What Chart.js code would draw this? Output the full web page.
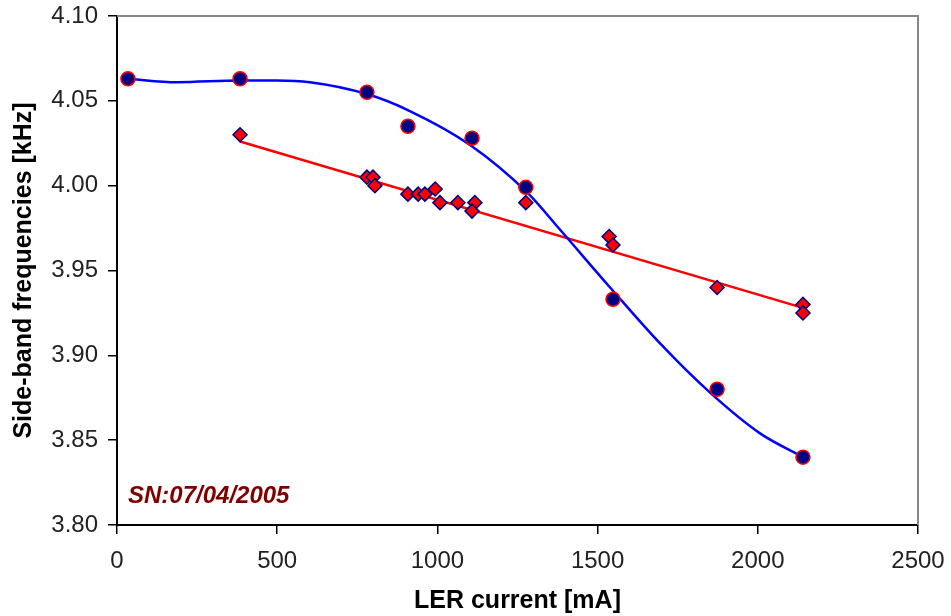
<!DOCTYPE html>
<html>
<head>
<meta charset="utf-8">
<script src="https://cdn.jsdelivr.net/npm/chart.js@4.4.0/dist/chart.umd.min.js"></script>
<style>
  body { margin: 0; background: #fff; }
  #wrap { width: 951px; height: 616px; }
</style>
</head>
<body>
<div id="wrap"><canvas id="chart" width="951" height="616"></canvas></div>
<script>
// measured points, upper set (circles)
const circleX = [34, 384, 780, 908, 1108, 1276, 1548, 1873, 2141];
const circleY = [4.063, 4.063, 4.055, 4.035, 4.028, 3.999, 3.933, 3.880, 3.840];

// measured points, lower set (diamonds)
const diamondX = [384, 780, 799, 805, 908, 940, 961, 993, 1008, 1064, 1117, 1108, 1276, 1536, 1548, 1873, 2141, 2141];
const diamondY = [4.030, 4.005, 4.005, 4.000, 3.995, 3.995, 3.995, 3.998, 3.990, 3.990, 3.990, 3.985, 3.990, 3.970, 3.965, 3.940, 3.930, 3.925];

// blue trend curve
const curveX = [34, 187, 384, 499, 602, 780, 914, 1102, 1280, 1383, 1539, 1695, 1851, 2007, 2141];
const curveY = [4.063, 4.061, 4.062, 4.062, 4.061, 4.054, 4.044, 4.024, 3.996, 3.974, 3.940, 3.907, 3.878, 3.854, 3.840];

// red linear trend
const lineX = [384, 2141];
const lineY = [4.026, 3.928];

const xTicks = [0, 500, 1000, 1500, 2000, 2500];
const yTicks = [3.80, 3.85, 3.90, 3.95, 4.00, 4.05, 4.10];

function pts(xs, ys) {
  return xs.map((x, i) => ({ x: x, y: ys[i] }));
}

const frame = {
  id: "frame",
  afterDatasetsDraw(chart) {
    const { ctx, chartArea: a } = chart;
    ctx.save();
    ctx.strokeStyle = "#888";
    ctx.lineWidth = 2;
    ctx.beginPath();
    ctx.moveTo(a.left, a.top);
    ctx.lineTo(a.right, a.top);
    ctx.lineTo(a.right, a.bottom);
    ctx.stroke();
    ctx.fillStyle = "#800000";
    ctx.font = "italic bold 24px 'Liberation Sans', Arial, sans-serif";
    ctx.textBaseline = "middle";
    ctx.fillText("SN:07/04/2005", 128, 496);
    ctx.restore();
  }
};

const tickFont = { family: "'Liberation Sans', Arial, sans-serif", size: 24 };
const titleFont = { family: "'Liberation Sans', Arial, sans-serif", size: 25, weight: "bold", lineHeight: 1 };

new Chart(document.getElementById("chart"), {
  type: "scatter",
  data: {
    datasets: [
      {
        data: pts(circleX, circleY),
        pointStyle: "circle",
        pointRadius: 7,
        backgroundColor: "#000080",
        borderColor: "#ff0000",
        borderWidth: 1.5,
        order: 1
      },
      {
        data: pts(diamondX, diamondY),
        pointStyle: "rectRot",
        pointRadius: 7,
        backgroundColor: "#ff0000",
        borderColor: "#000080",
        borderWidth: 1.5,
        order: 1
      },
      {
        data: pts(curveX, curveY),
        showLine: true,
        pointRadius: 0,
        borderColor: "#0000ff",
        borderWidth: 2.5,
        cubicInterpolationMode: "monotone",
        order: 2
      },
      {
        data: pts(lineX, lineY),
        showLine: true,
        pointRadius: 0,
        borderColor: "#ff0000",
        borderWidth: 2.5,
        order: 2
      }
    ]
  },
  options: {
    responsive: false,
    animation: false,
    layout: { padding: { top: 16, right: 33, left: 0, bottom: 0 } },
    plugins: { legend: { display: false }, tooltip: { enabled: false } },
    scales: {
      x: {
        min: 0,
        max: 2500,
        afterFit: (s) => { s.height = 91; s.paddingLeft = 0; s.paddingRight = 0; },
        afterBuildTicks: (s) => { s.ticks = xTicks.map((v) => ({ value: v })); },
        ticks: { font: tickFont, color: "#222", padding: 13, callback: (v) => String(v) },
        grid: { drawOnChartArea: false, drawTicks: true, tickLength: 9, color: "#000", lineWidth: 1.5 },
        border: { color: "#000", width: 2 },
        title: { display: true, text: "LER current [mA]", font: titleFont, color: "#000", padding: { top: 0, bottom: 2 } }
      },
      y: {
        min: 3.8,
        max: 4.1,
        afterFit: (s) => { s.width = 117; s.paddingTop = 0; s.paddingBottom = 0; },
        afterBuildTicks: (s) => { s.ticks = yTicks.map((v) => ({ value: v })); },
        ticks: { font: tickFont, color: "#222", padding: 10, callback: (v) => Number(v).toFixed(2) },
        grid: { drawOnChartArea: false, drawTicks: true, tickLength: 9, color: "#000", lineWidth: 1.5 },
        border: { color: "#000", width: 2 },
        title: { display: true, text: "Side-band frequencies [kHz]", font: titleFont, color: "#000", padding: { top: 12, bottom: 0 } }
      }
    }
  },
  plugins: [frame]
});
</script>
</body>
</html>
